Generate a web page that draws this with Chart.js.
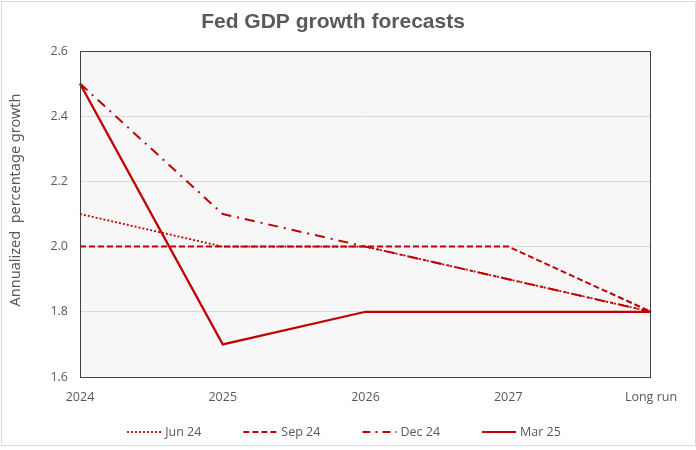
<!DOCTYPE html>
<html>
<head>
<meta charset="utf-8">
<script src="https://cdn.jsdelivr.net/npm/chart.js@4"></script>
<style>
  body { margin: 0; background: #fff; }
  #wrap { width: 696px; height: 450px; }
</style>
</head>
<body>
<div id="wrap"><canvas id="gdpChart" width="696" height="450"></canvas></div>
<script>
const categories = ['2024', '2025', '2026', '2027', 'Long run'];
const jun24 = [2.1, 2.0, 2.0, null, 1.8];
const sep24 = [2.0, 2.0, 2.0, 2.0, 1.8];
const dec24 = [2.5, 2.1, 2.0, 1.9, 1.8];
const mar25 = [2.5, 1.7, 1.8, 1.8, 1.8];
const yTicks = [1.6, 1.8, 2.0, 2.2, 2.4, 2.6];

const red = '#c00000';
const grey = '#595959';
const labelFont = '12.5px "Open Sans"';

// plot background, plot border, frame, titles and legend
const decor = {
    id: 'decor',
    beforeDraw(chart) {
        const c = chart.ctx, a = chart.chartArea;
        c.save();
        c.fillStyle = '#fff';
        c.fillRect(0, 0, chart.width, chart.height);
        c.strokeStyle = '#d9d9d9';
        c.lineWidth = 1;
        c.strokeRect(1.5, 1.5, chart.width - 2, chart.height - 6);
        c.fillStyle = '#f7f7f7';
        c.fillRect(a.left, a.top, a.right - a.left, a.bottom - a.top);
        c.restore();
    },
    afterDraw(chart) {
        const c = chart.ctx, a = chart.chartArea;
        c.save();
        c.strokeStyle = '#404040';
        c.lineWidth = 1;
        c.strokeRect(Math.round(a.left) + 0.5, Math.round(a.top) + 0.5,
            Math.round(a.right - a.left) - 1, Math.round(a.bottom - a.top));

        c.fillStyle = grey;
        c.font = 'bold 21px "Liberation Sans", Arial';
        c.textAlign = 'center';
        c.textBaseline = 'middle';
        c.fillText('Fed GDP growth forecasts', 333, 22);

        c.save();
        c.translate(16, 200);
        c.rotate(-Math.PI / 2);
        c.font = '14.5px "Noto Sans"';
        c.fillText('Annualized  percentage growth', 0, 0);
        c.restore();

        // legend, oldest forecast first
        const items = chart.data.datasets.slice().reverse();
        const sample = 34, gapText = 4, gapItem = 42, y = 432;
        c.font = labelFont;
        const widths = items.map(d => c.measureText(d.label).width);
        let total = widths.reduce((s, w) => s + w, 0) + items.length * (sample + gapText) + (items.length - 1) * gapItem;
        let x = 344 - total / 2;
        c.textAlign = 'left';
        items.forEach((d, i) => {
            c.strokeStyle = d.borderColor;
            c.lineWidth = d.borderWidth;
            c.setLineDash(d.legendDash || d.borderDash || []);
            c.beginPath();
            c.moveTo(x, y);
            c.lineTo(x + sample, y);
            c.stroke();
            c.setLineDash([]);
            c.fillStyle = grey;
            c.fillText(d.label, x + sample + gapText, y);
            x += sample + gapText + widths[i] + gapItem;
        });
        c.restore();
    }
};

const ctx = document.getElementById('gdpChart').getContext('2d');

const gdpChart = new Chart(ctx, {
    type: 'line',
    data: {
        labels: categories,
        datasets: [{
            label: 'Mar 25',
            data: mar25,
            borderColor: red,
            borderWidth: 2.2,
            order: 1
        }, {
            label: 'Dec 24',
            data: dec24,
            borderColor: red,
            borderWidth: 2,
            borderDash: [10, 6, 2, 6],
            legendDash: [8, 5, 2, 5],
            order: 2
        }, {
            label: 'Sep 24',
            data: sep24,
            borderColor: red,
            borderWidth: 2,
            borderDash: [6, 3],
            order: 3
        }, {
            label: 'Jun 24',
            data: jun24,
            borderColor: red,
            borderWidth: 1.8,
            borderDash: [2, 2],
            spanGaps: true,
            order: 4
        }]
    },
    options: {
        responsive: false,
        animation: false,
        layout: {
            padding: { left: 0, top: 51, right: 45, bottom: 37 }
        },
        elements: {
            point: { radius: 0 },
            line: { tension: 0 }
        },
        scales: {
            x: {
                offset: false,
                grid: { display: false, drawTicks: false },
                border: { display: false },
                ticks: {
                    color: grey,
                    font: { size: 12.5, family: 'Open Sans' },
                    padding: 13,
                    maxRotation: 0,
                    autoSkip: false
                },
                afterFit(scale) { scale.height = 36; }
            },
            y: {
                min: 1.6,
                max: 2.6,
                afterBuildTicks(scale) {
                    scale.ticks = yTicks.map(v => ({ value: v }));
                },
                grid: { color: '#d9d9d9', drawTicks: false },
                border: { display: false },
                ticks: {
                    color: grey,
                    font: { size: 12.5, family: 'Open Sans' },
                    padding: 12,
                    callback: v => Number(v).toFixed(1)
                },
                afterFit(scale) { scale.width = 80; }
            }
        },
        plugins: {
            legend: { display: false },
            tooltip: { enabled: false }
        }
    },
    plugins: [decor]
});
</script>
</body>
</html>
